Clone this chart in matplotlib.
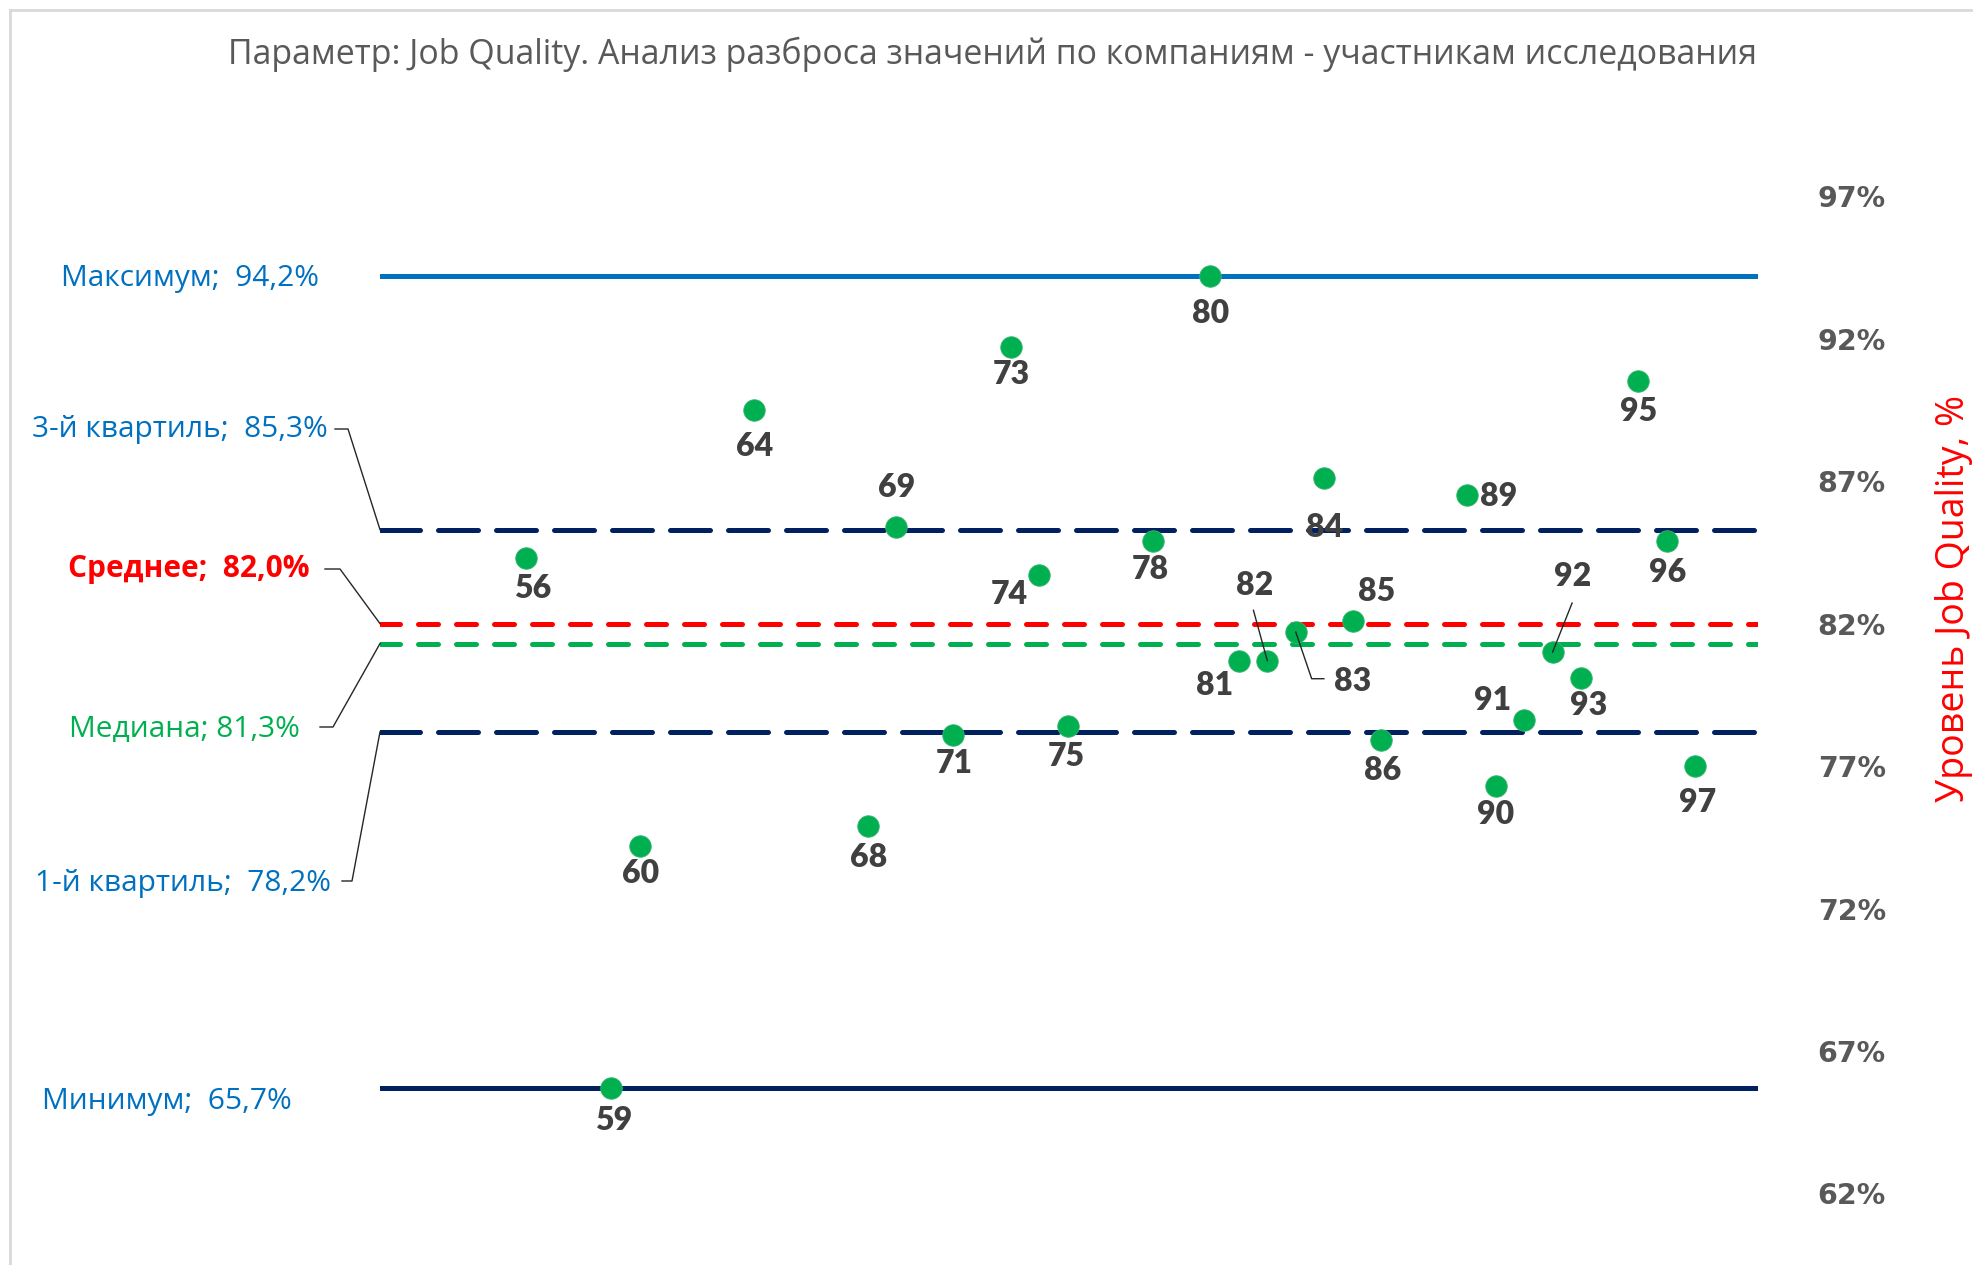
import matplotlib.pyplot as plt
from matplotlib.lines import Line2D
from matplotlib.transforms import IdentityTransform
from matplotlib.ticker import FixedLocator, FuncFormatter

# companies taking part and their Job Quality score, %
companies = [56, 59, 60, 64, 68, 69, 71, 73, 74, 75, 78, 80, 81, 82, 83,
             84, 85, 86, 89, 90, 91, 92, 93, 95, 96, 97]
values = [84.3, 65.7, 74.2, 89.5, 74.9, 85.4, 78.1, 91.7, 83.7, 78.4, 84.9,
          94.2, 80.7, 80.7, 81.7, 87.1, 82.1, 77.9, 86.5, 76.3, 78.6, 81.0,
          80.1, 90.5, 84.9, 77.0]

# summary statistics
stat_names = ['Максимум', '3-й квартиль', 'Среднее', 'Медиана', '1-й квартиль', 'Минимум']
stat_values = [94.2, 85.3, 82.0, 81.3, 78.2, 65.7]

yticks = [62, 67, 72, 77, 82, 87, 92, 97]

title = 'Параметр: Job Quality. Анализ разброса значений по компаниям - участникам исследования'
ylabel = 'Уровень Job Quality, %'

W, H = 1973, 1265
S = W / 1568          # label offsets below are given on a 1568 px grid

GREEN = '#00B050'
NAVY = '#002060'
BLUE = '#0070C0'
RED = '#FF0000'
GRAY = '#595959'
DARK = '#404040'

fig = plt.figure(figsize=(W / 100, H / 100), dpi=100)
fig.patch.set_facecolor('white')

# plot area in pixels (left, top, right, bottom)
L, T, R, B = 380, 139.3, 1758, 1250.4
ax = fig.add_axes([L / W, 1 - B / H, (R - L) / W, (B - T) / H])
x0, x1 = 50.9, 99.2
ax.set_xlim(x0, x1)
ax.set_ylim(60, 99)
for s in ax.spines.values():
    s.set_visible(False)
ax.xaxis.set_visible(False)
ax.yaxis.tick_right()
ax.yaxis.set_major_locator(FixedLocator(yticks))
ax.yaxis.set_major_formatter(FuncFormatter(lambda v, p: f'{v:.0f}%'))
ax.tick_params(axis='y', length=0, pad=43, labelsize=20.5, labelcolor=GRAY)
for t in ax.get_yticklabels():
    t.set_fontweight('bold')
    t.set_family('DejaVu Sans')

# statistic lines
line_styles = {
    'Максимум': dict(color=BLUE, ls='-'),
    '3-й квартиль': dict(color=NAVY, ls=(0, (8.0, 3.6))),
    'Среднее': dict(color=RED, ls=(0, (4.0, 3.6))),
    'Медиана': dict(color=GREEN, ls=(0, (4.0, 3.6))),
    '1-й квартиль': dict(color=NAVY, ls=(0, (8.0, 3.6))),
    'Минимум': dict(color=NAVY, ls='-'),
}
for name, v in zip(stat_names, stat_values):
    st = line_styles[name]
    ax.plot([x0, x1], [v, v], color=st['color'], linestyle=st['ls'],
            lw=3.6, solid_capstyle='round', dash_capstyle='round', zorder=2)

# company points
ax.plot(companies, values, 'o', color=GREEN, ms=15.5, mec='#3CB371',
        mew=0.6, zorder=4)

# number labels next to each point (dx, dy on the 1568 grid, y down)
label_offsets = {
    56: (6, 24), 59: (2, 26), 60: (1, 22), 64: (1, 29), 68: (1, 25),
    69: (0, -31), 71: (1, 23), 73: (1, 22), 74: (-24, 15), 75: (-1, 24),
    78: (-2, 23), 80: (0, 30), 81: (-19, 20), 82: (-10, -60), 83: (45, 39),
    84: (0, 39), 85: (19, -23), 86: (1, 24), 89: (25, 1), 90: (0, 23),
    91: (-25, -16), 92: (16, -60), 93: (6, 22), 95: (0, 24), 96: (1, 25),
    97: (2, 29),
}
for c, v in zip(companies, values):
    dx, dy = label_offsets[c]
    ax.annotate(str(c), xy=(c, v), xytext=(dx * S, -dy * S),
                textcoords='offset pixels', ha='center', va='center',
                fontsize=23, fontweight='heavy', color=DARK, family='Lato',
                zorder=5)

fig.canvas.draw()


def px(c, v):
    return ax.transData.transform((c, v))


def leader(points):
    xs = [p[0] for p in points]
    ys = [p[1] for p in points]
    fig.add_artist(Line2D(xs, ys, transform=IdentityTransform(),
                          color='#262626', lw=1.0, zorder=6))


# leaders for crowded point labels (offsets on the 1568 grid, y down)
point_leaders = {
    82: [(-11, -40), (0, 0)],
    83: [(0, 0), (12.6, 37), (22.3, 37)],
    92: [(15.5, -39), (0, 0)],
}
for c, offs in point_leaders.items():
    v = values[companies.index(c)]
    bx, by = px(c, v)
    leader([(bx + dx * S, by - dy * S) for dx, dy in offs])

# statistic captions on the left (centre x, y in pixels from top)
stat_label_pos = {
    'Максимум': (190, 278),
    '3-й квартиль': (180, 429),
    'Среднее': (189, 569),
    'Медиана': (184, 729),
    '1-й квартиль': (183, 883),
    'Минимум': (167, 1101),
}
stat_label_colors = {
    'Максимум': BLUE, '3-й квартиль': BLUE, 'Среднее': RED,
    'Медиана': GREEN, '1-й квартиль': BLUE, 'Минимум': BLUE,
}
for name, v in zip(stat_names, stat_values):
    xx, yy = stat_label_pos[name]
    sep = '; ' if name == 'Медиана' else ';  '
    txt = f'{name}{sep}{v:.1f}%'.replace('.', ',')
    fig.text(xx / W, 1 - yy / H, txt, ha='center', va='center',
             fontsize=21.5, color=stat_label_colors[name], family='Open Sans',
             fontweight='bold' if name == 'Среднее' else 'normal')

# leaders from the captions to the line ends (start x, bend x, y from top)
stat_leaders = {
    '3-й квартиль': (335, 348, 429),
    'Среднее': (325, 340, 569),
    'Медиана': (320, 333, 727),
    '1-й квартиль': (342, 352, 881),
}
for name, (sx, bx, yy) in stat_leaders.items():
    v = stat_values[stat_names.index(name)]
    ex, ey = px(x0, v)
    leader([(sx, H - yy), (bx, H - yy), (ex, ey)])

fig.text(993 / W, 1 - 54 / H, title, ha='center', va='center',
         fontsize=24.4, color=GRAY, family='Open Sans')
fig.text(1954 / W, 1 - 599 / H, ylabel, ha='center', va='center',
         rotation=90, fontsize=27, color=RED, family='Open Sans')

# chart frame edges
fig.add_artist(Line2D([10 / W, 10 / W], [0, 1 - 10 / H],
                      transform=fig.transFigure, color='#D9D9D9', lw=2))
fig.add_artist(Line2D([10 / W, 1], [1 - 10 / H, 1 - 10 / H],
                      transform=fig.transFigure, color='#D9D9D9', lw=2))

fig.savefig('out.png', dpi=100)
